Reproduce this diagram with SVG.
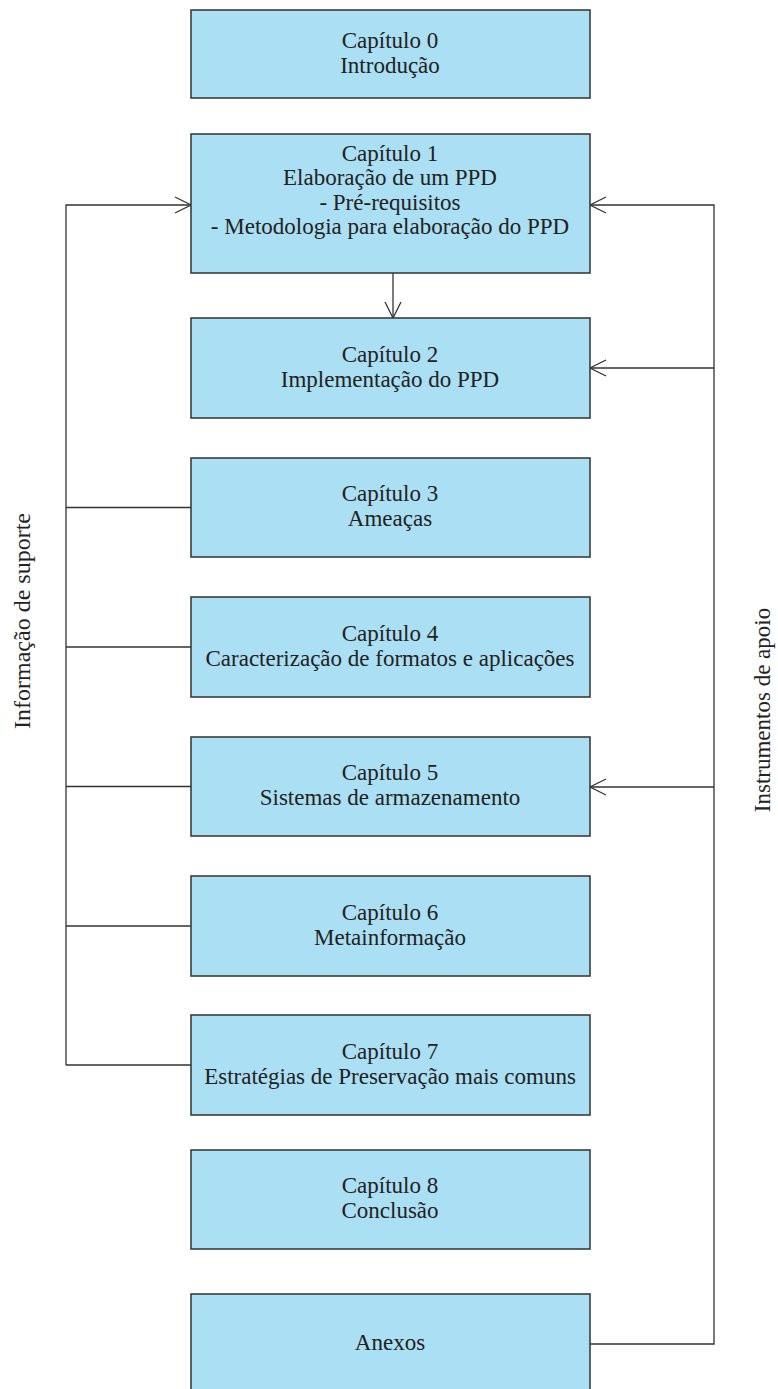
<svg xmlns="http://www.w3.org/2000/svg" width="778" height="1389" viewBox="0 0 778 1389">
<style>
.box{fill:#abdff3;stroke:#3c3c3c;stroke-width:1.6}
.t{font-family:"Liberation Serif","Times New Roman",serif;font-size:23px;fill:#222;text-anchor:middle}
.c{fill:none;stroke:#333;stroke-width:1.3}
</style>
<defs>
<marker id="ah" markerUnits="userSpaceOnUse" markerWidth="18" markerHeight="18" refX="16" refY="8" orient="auto" overflow="visible">
<path d="M0,0 L16,8 L0,16" fill="none" stroke="#333" stroke-width="1.3"/>
</marker>
</defs>
<rect width="778" height="1389" fill="#fff"/>
<g id="connectors">
<path class="c" d="M66,1065 V205 H191" marker-end="url(#ah)"/>
<path class="c" d="M66,507.5 H191"/>
<path class="c" d="M66,647 H191"/>
<path class="c" d="M66,786.5 H191"/>
<path class="c" d="M66,926 H191"/>
<path class="c" d="M66,1065 H191"/>
<path class="c" d="M590,1344 H714 V205 H590" marker-end="url(#ah)"/>
<path class="c" d="M714,368 H590" marker-end="url(#ah)"/>
<path class="c" d="M714,787 H590" marker-end="url(#ah)"/>
<path class="c" d="M393,273 V318" marker-end="url(#ah)"/>
</g>
<g id="n0"><rect class="box" x="191" y="10" width="399" height="88"/>
<text class="t" x="390" y="48">Capítulo 0</text><text class="t" x="390" y="73">Introdução</text></g>
<g id="n1"><rect class="box" x="191" y="134" width="399" height="139"/>
<text class="t" x="390" y="161">Capítulo 1</text><text class="t" x="390" y="185">Elaboração de um PPD</text><text class="t" x="390" y="209.5">- Pré-requisitos</text><text class="t" x="390" y="234">- Metodologia para elaboração do PPD</text></g>
<g id="n2"><rect class="box" x="191" y="318" width="399" height="100"/>
<text class="t" x="390" y="361.5">Capítulo 2</text><text class="t" x="390" y="386.5">Implementação do PPD</text></g>
<g id="n3"><rect class="box" x="191" y="458" width="399" height="99"/>
<text class="t" x="390" y="501">Capítulo 3</text><text class="t" x="390" y="526">Ameaças</text></g>
<g id="n4"><rect class="box" x="191" y="597" width="399" height="100"/>
<text class="t" x="390" y="640.5">Capítulo 4</text><text class="t" x="390" y="665.5">Caracterização de formatos e aplicações</text></g>
<g id="n5"><rect class="box" x="191" y="737" width="399" height="99"/>
<text class="t" x="390" y="780">Capítulo 5</text><text class="t" x="390" y="805">Sistemas de armazenamento</text></g>
<g id="n6"><rect class="box" x="191" y="876" width="399" height="100"/>
<text class="t" x="390" y="919.5">Capítulo 6</text><text class="t" x="390" y="944.5">Metainformação</text></g>
<g id="n7"><rect class="box" x="191" y="1015" width="399" height="100"/>
<text class="t" x="390" y="1058.5">Capítulo 7</text><text class="t" x="390" y="1083.5">Estratégias de Preservação mais comuns</text></g>
<g id="n8"><rect class="box" x="191" y="1150" width="399" height="99"/>
<text class="t" x="390" y="1193">Capítulo 8</text><text class="t" x="390" y="1218">Conclusão</text></g>
<g id="n9"><rect class="box" x="191" y="1294" width="399" height="110"/>
<text class="t" x="390" y="1350">Anexos</text></g>
<g id="label-left"><text class="t" style="font-size:24px" transform="translate(30,621) rotate(-90)">Informação de suporte</text></g>
<g id="label-right"><text class="t" transform="translate(770,710) rotate(-90)">Instrumentos de apoio</text></g>
</svg>
